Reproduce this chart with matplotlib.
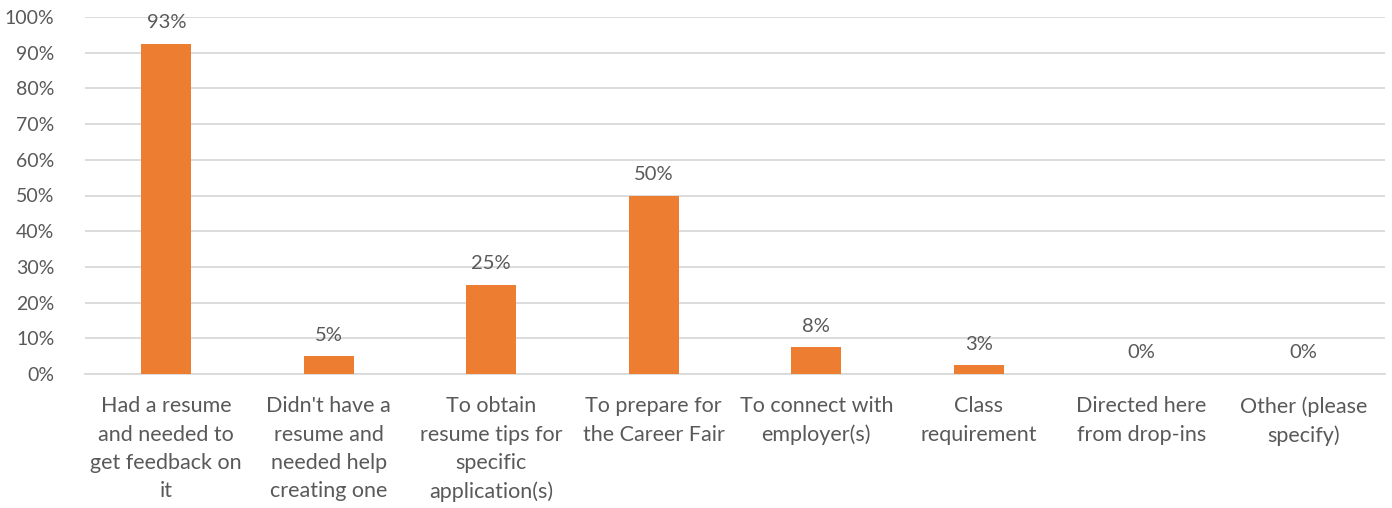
import numpy as np
import matplotlib.pyplot as plt

# survey responses (share of respondents)
categories = [
    "Had a resume\nand needed to\nget feedback on\nit",
    "Didn't have a\nresume and\nneeded help\ncreating one",
    "To obtain\nresume tips for\nspecific\napplication(s)",
    "To prepare for\nthe Career Fair",
    "To connect with\nemployer(s)",
    "Class\nrequirement",
    "Directed here\nfrom drop-ins",
    "Other (please\nspecify)",
]
values = [0.925, 0.05, 0.25, 0.50, 0.075, 0.025, 0.0, 0.0]
labels = ["93%", "5%", "25%", "50%", "8%", "3%", "0%", "0%"]
yticks = np.arange(0, 1.01, 0.1)

text_color = "#595959"
bar_color = "#ED7D31"
plt.rcParams['font.family'] = ['Lato', 'DejaVu Sans']

fig = plt.figure(figsize=(13.92, 5.08), dpi=100)
ax = fig.add_axes([85 / 1392, 134 / 508, 1300 / 1392, 357 / 508])

x = np.arange(len(categories))
ax.bar(x, values, width=0.31, color=bar_color, zorder=3)

for xi, v, lab in zip(x, values, labels):
    ax.annotate(lab, (xi, v), xytext=(0, 9), textcoords="offset points",
                ha="center", va="bottom", fontsize=14.5, color=text_color)

ax.set_xlim(-0.5, len(categories) - 0.5)
ax.set_ylim(0, 1)
ax.set_yticks(yticks)
ax.set_yticklabels([f"{int(round(t * 100))}%" for t in yticks])
ax.set_xticks(x)
ax.set_xticklabels(categories, linespacing=1.52)

ax.grid(axis="y", color="#D9D9D9", linewidth=1.3, zorder=0)
for s in ["top", "right", "left"]:
    ax.spines[s].set_visible(False)
ax.spines["bottom"].set_color("#D9D9D9")
ax.spines["bottom"].set_linewidth(1.3)

ax.tick_params(axis="y", length=0, pad=22, labelsize=14, labelcolor=text_color)
ax.tick_params(axis="x", length=0, pad=16, labelsize=15.5, labelcolor=text_color)

fig.savefig("out.png", dpi=100)
